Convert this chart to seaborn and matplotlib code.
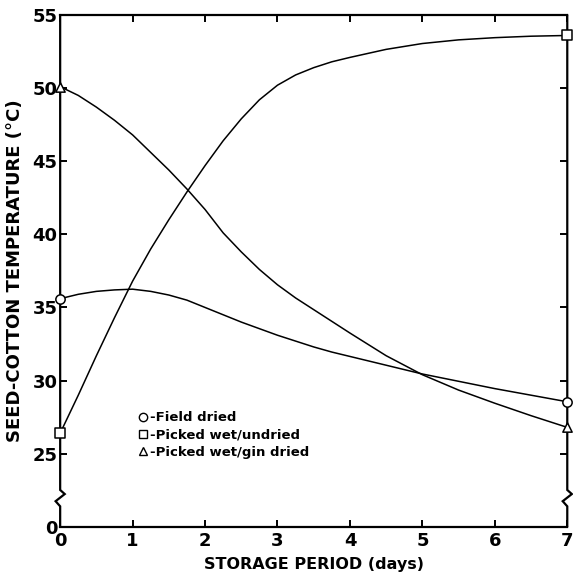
import matplotlib
matplotlib.use("Agg")
import matplotlib.pyplot as plt
from matplotlib.lines import Line2D
import numpy as np, pandas as pd
import seaborn as sns

# storage period (days)
days = [0, 0.25, 0.5, 0.75, 1, 1.25, 1.5, 1.75, 2, 2.25, 2.5, 2.75, 3,
        3.25, 3.5, 3.75, 4, 4.5, 5, 5.5, 6, 6.5, 7]
# seed-cotton temperature (deg C)
field_dried = [35.6, 35.9, 36.1, 36.2, 36.25, 36.1, 35.85, 35.5, 35.0, 34.5, 34.0, 33.55, 33.1,
               32.7, 32.3, 31.95, 31.65, 31.05, 30.45, 29.95, 29.45, 29.0, 28.55]
wet_undried = [26.4, 29.0, 31.7, 34.3, 36.8, 39.0, 41.0, 42.9, 44.7, 46.4, 47.9, 49.2, 50.2,
               50.9, 51.4, 51.8, 52.1, 52.65, 53.05, 53.3, 53.45, 53.55, 53.6]
wet_gin_dried = [50.1, 49.5, 48.7, 47.8, 46.8, 45.6, 44.4, 43.1, 41.7, 40.1, 38.8, 37.6, 36.55,
                 35.65, 34.85, 34.05, 33.25, 31.7, 30.4, 29.35, 28.45, 27.6, 26.8]
labels = ["-Field dried", "-Picked wet/undried", "-Picked wet/gin dried"]
markers = ["o", "s", "^"]

df = pd.DataFrame({"day": days, labels[0]: field_dried,
                   labels[1]: wet_undried, labels[2]: wet_gin_dried})
long = df.melt(id_vars="day", var_name="treatment", value_name="temp")

sns.set_style("ticks")
plt.rcParams["font.family"] = ["DejaVu Sans"]
plt.rcParams["text.color"] = "black"
plt.rcParams["axes.labelcolor"] = "black"
plt.rcParams["xtick.color"] = "black"
plt.rcParams["ytick.color"] = "black"

fig = plt.figure(figsize=(5.73, 5.77), dpi=100)
ax = fig.add_axes([0.105, 0.087, 0.885, 0.887])

sns.lineplot(data=long, x="day", y="temp", units="treatment", estimator=None,
             color="black", lw=1.1, ax=ax, legend=False)

# open markers at the first and last day only
for lab, mk in zip(labels, markers):
    ends = df.iloc[[0, -1]]
    ax.scatter(ends["day"], ends[lab], marker=mk, s=45, facecolor="white",
               edgecolor="black", linewidth=1.1, zorder=5, clip_on=False)

ax.set_xlim(0, 7)
ax.set_ylim(20, 55)
ax.set_xticks(range(8))
ax.set_yticks([20, 25, 30, 35, 40, 45, 50, 55])
ax.set_yticklabels(["0", "25", "30", "35", "40", "45", "50", "55"])
ax.tick_params(direction="in", length=5, width=1.4, labelsize=13,
               top=True, right=True, pad=4)
ax.tick_params(axis="x", labeltop=False)
ax.tick_params(axis="y", labelright=False, pad=2)
for t in ax.get_xticklabels() + ax.get_yticklabels():
    t.set_fontweight("bold")

for s in ["top", "bottom"]:
    ax.spines[s].set_linewidth(1.6)
    ax.spines[s].set_color("black")
ax.spines["left"].set_visible(False)
ax.spines["right"].set_visible(False)

# side axes with the break zigzag
bt, bb = 0.072, 0.040
dx = 0.009
for x0 in (0, 1):
    xs = [x0, x0, x0 + dx, x0 - dx, x0, x0]
    ys = [1, bt, bt - 0.008, bb + 0.010, bb, 0]
    ax.plot(xs, ys, color="black", lw=1.6, transform=ax.transAxes,
            clip_on=False, zorder=4, solid_joinstyle="miter")

ax.set_xlabel("STORAGE PERIOD (days)", fontsize=11.5, fontweight="bold", labelpad=5)
ax.set_ylabel("SEED-COTTON TEMPERATURE (°C)", fontsize=13, fontweight="bold", labelpad=6)

handles = [Line2D([], [], marker=mk, ls="none", mfc="white", mec="black",
                  ms=6, mew=1.0) for mk in markers]
ax.legend(handles, labels, loc="upper left", bbox_to_anchor=(0.14, 0.236),
          frameon=False, handletextpad=0.0, handlelength=1.0,
          labelspacing=0.32, borderaxespad=0, prop={"size": 9.5, "weight": "bold"})

fig.savefig("out.png", dpi=100)
